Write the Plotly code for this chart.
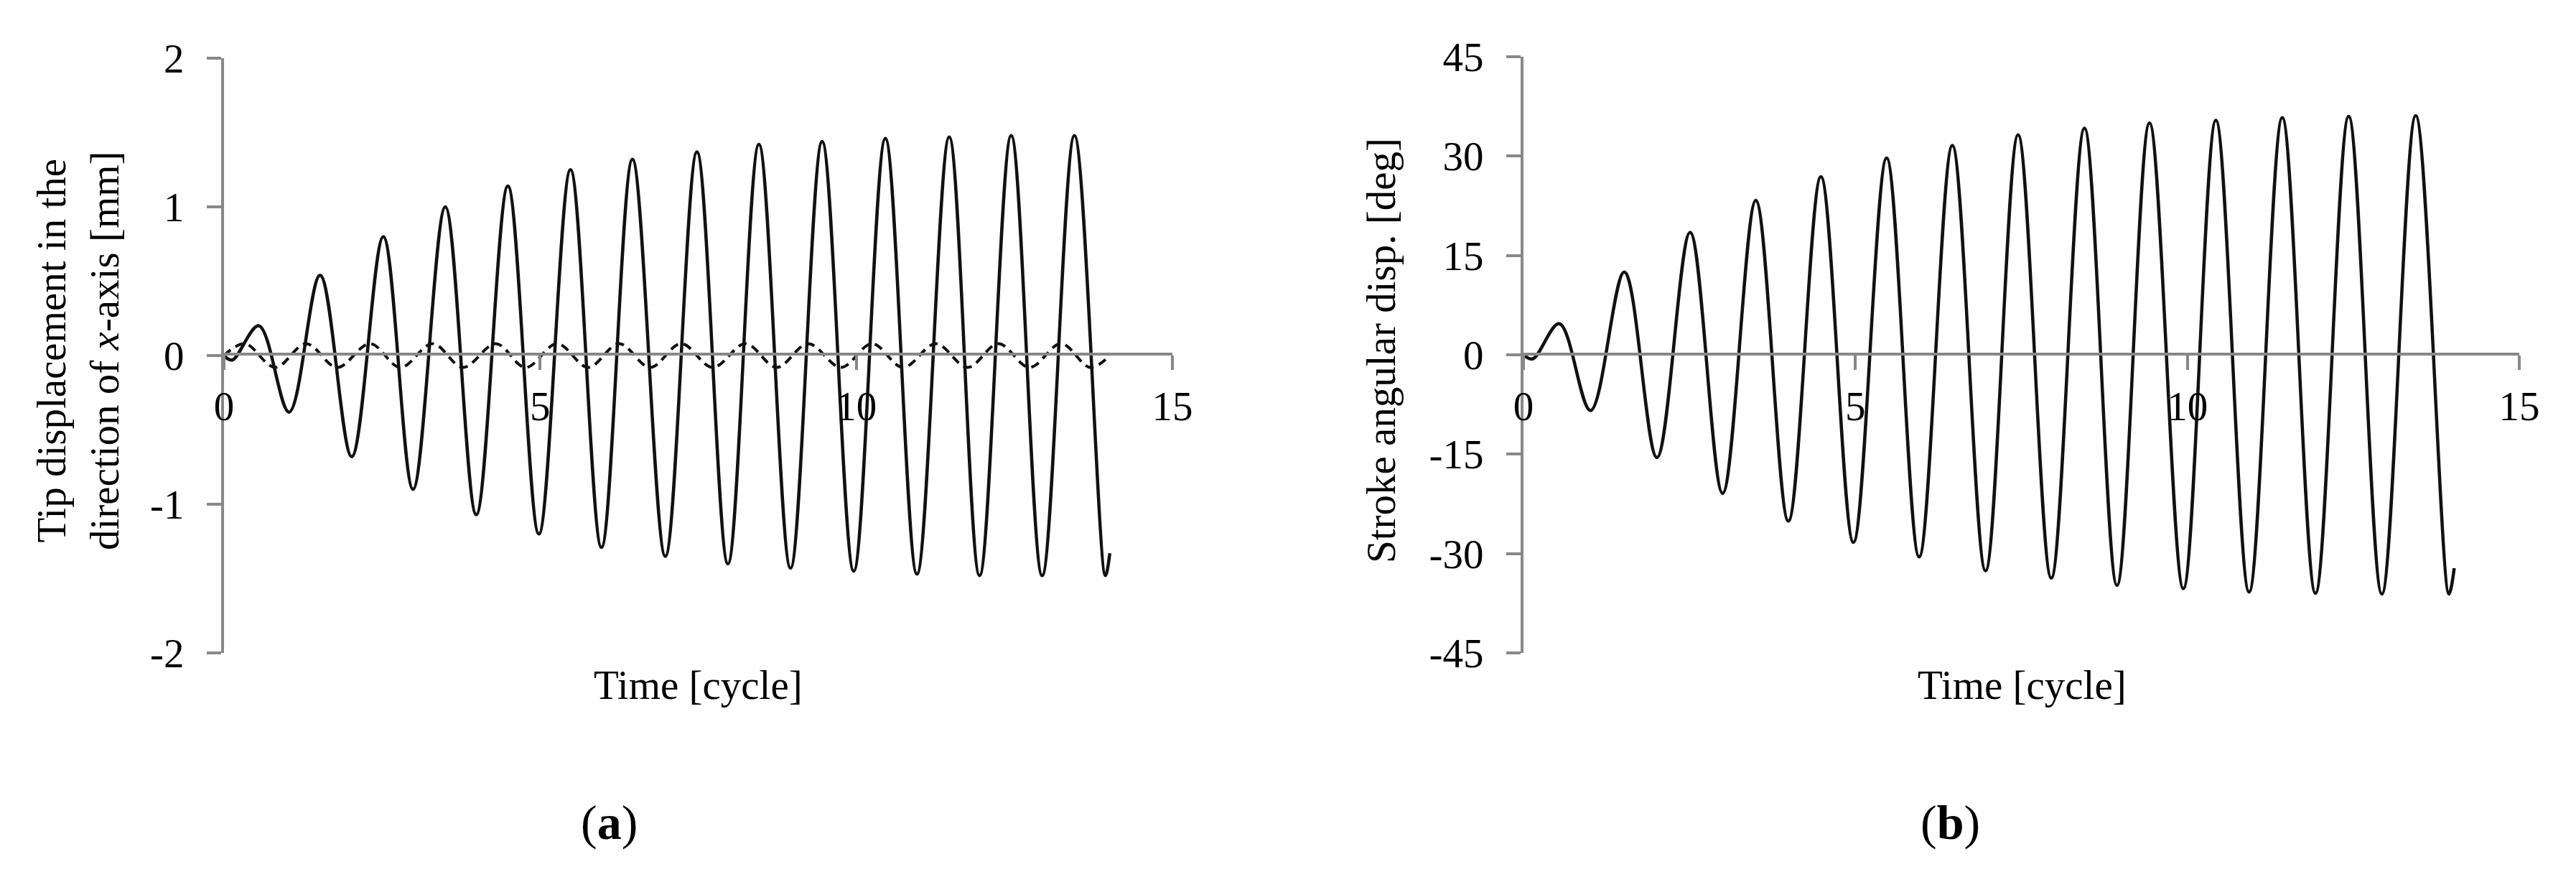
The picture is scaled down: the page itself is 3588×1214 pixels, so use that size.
import plotly.graph_objects as go

# (a) tip displacement along x-axis, solid curve: turning points
t_tip = [0.0, 0.13, 0.55, 1.03, 1.52, 2.02, 2.52, 2.99, 3.50, 3.99, 4.49, 4.98, 5.48, 5.97,
         6.46, 6.98, 7.48, 7.97, 8.46, 8.96, 9.46, 9.96, 10.46, 10.96, 11.47, 11.95, 12.45,
         12.94, 13.45, 13.94, 14.01]
tip_disp = [0.0, -0.03, 0.20, -0.38, 0.54, -0.68, 0.80, -0.90, 1.00, -1.07, 1.14, -1.20, 1.25,
            -1.29, 1.32, -1.35, 1.37, -1.40, 1.42, -1.43, 1.44, -1.45, 1.46, -1.47, 1.47, -1.48,
            1.48, -1.48, 1.48, -1.48, -1.33]

# (a) dashed curve: turning points
t_dash = [0.0, 0.33, 0.81, 1.30, 1.79, 2.31, 2.79, 3.30, 3.78, 4.30, 4.77, 5.27, 5.76, 6.25,
          6.74, 7.23, 7.73, 8.25, 8.74, 9.24, 9.76, 10.25, 10.74, 11.26, 11.76, 12.25, 12.74,
          13.24, 13.70, 14.01]
dash_disp = [0.0, 0.08, -0.08, 0.08, -0.08, 0.08, -0.08, 0.08, -0.08, 0.08, -0.08, 0.08, -0.08,
             0.08, -0.08, 0.08, -0.08, 0.08, -0.08, 0.08, -0.08, 0.08, -0.08, 0.08, -0.08, 0.08,
             -0.08, 0.08, -0.08, 0.0]

# (b) stroke angular displacement: turning points
t_stroke = [0.0, 0.14, 0.54, 1.01, 1.52, 2.01, 2.51, 3.00, 3.50, 3.99, 4.48, 4.97, 5.47, 5.96,
            6.46, 6.96, 7.45, 7.95, 8.45, 8.94, 9.43, 9.94, 10.43, 10.93, 11.43, 11.93, 12.43,
            12.93, 13.44, 13.94, 14.02]
stroke = [0.0, -0.6, 4.7, -8.4, 12.5, -15.5, 18.5, -20.9, 23.3, -25.1, 26.9, -28.3, 29.7, -30.5,
          31.6, -32.6, 33.2, -33.7, 34.2, -34.8, 35.0, -35.3, 35.4, -35.8, 35.8, -36.0, 36.0,
          -36.1, 36.1, -36.1, -32.2]

# tick labels (plain hyphen as in the original, not a unicode minus)
x_ticks = [0, 5, 10, 15]
x_ticktext = ["0", "5", "10", "15"]
disp_ticks = [-2, -1, 0, 1, 2]
disp_ticktext = ["-2", "-1", "0", "1", "2"]
stroke_ticks = [-45, -30, -15, 0, 15, 30, 45]
stroke_ticktext = ["-45", "-30", "-15", "0", "15", "30", "45"]

W, H = 3588, 1214
FONT = "Liberation Serif"
GRAY = "#888888"
FS = 57

fig = go.Figure()

fig.add_trace(go.Scatter(x=t_dash, y=dash_disp, mode="lines", line_shape="spline",
                         line=dict(color="#111111", width=4, dash="12px,8px"),
                         xaxis="x", yaxis="y"))
fig.add_trace(go.Scatter(x=t_tip, y=tip_disp, mode="lines", line_shape="spline",
                         line=dict(color="#111111", width=4.5, smoothing=1.0),
                         xaxis="x", yaxis="y"))
fig.add_trace(go.Scatter(x=t_stroke, y=stroke, mode="lines", line_shape="spline",
                         line=dict(color="#111111", width=4.5, smoothing=1.0),
                         xaxis="x2", yaxis="y2"))

# shared axis styling
ax = dict(showgrid=False, zeroline=False, showline=True, linecolor=GRAY, linewidth=4,
          ticks="outside", ticklen=20, tickwidth=4, tickcolor=GRAY, automargin=False,
          tickfont=dict(family=FONT, size=FS, color="black"))

y0 = 1 - 485 / H  # paper position of value 0 on the y axes

fig.update_layout(
    template="none",
    width=W, height=H,
    margin=dict(l=0, r=0, t=0, b=0, pad=0),
    paper_bgcolor="white", plot_bgcolor="white",
    showlegend=False,
    font=dict(family=FONT, size=FS, color="black"),
    xaxis=dict(ax, domain=[304 / W, 1625 / W], range=[0, 15],
               tickvals=x_ticks, ticktext=x_ticktext,
               anchor="free", position=y0, ticklabelstandoff=2),
    yaxis=dict(ax, domain=[1 - 901 / H, 1 - 73 / H], range=[-2, 2],
               tickvals=disp_ticks, ticktext=disp_ticktext,
               anchor="x", ticklabelstandoff=20),
    xaxis2=dict(ax, domain=[2114 / W, 3501 / W], range=[0, 15],
                tickvals=x_ticks, ticktext=x_ticktext,
                anchor="free", position=y0, ticklabelstandoff=2),
    yaxis2=dict(ax, domain=[1 - 901 / H, 1 - 71 / H], range=[-45, 45],
                tickvals=stroke_ticks, ticktext=stroke_ticktext,
                anchor="x2", ticklabelstandoff=20),
)

ann = dict(xref="paper", yref="paper", showarrow=False, xanchor="center", yanchor="middle",
           font=dict(family=FONT, size=FS, color="black"))
fig.add_annotation(ann, x=100 / W, y=1 - 480 / H, textangle=-90,
                   text="Tip displacement in the<br>direction of <i>x</i>-axis [mm]")
fig.add_annotation(ann, x=1915 / W, y=1 - 480 / H, textangle=-90,
                   text="Stroke angular disp. [deg]")
fig.add_annotation(ann, x=964 / W, y=1 - 945 / H, text="Time [cycle]")
fig.add_annotation(ann, x=2808 / W, y=1 - 945 / H, text="Time [cycle]")
fig.add_annotation(ann, x=840 / W, y=1 - 1137 / H, text="(<b>a</b>)",
                   font=dict(family=FONT, size=68, color="black"))
fig.add_annotation(ann, x=2708 / W, y=1 - 1137 / H, text="(<b>b</b>)",
                   font=dict(family=FONT, size=68, color="black"))

fig.write_html("out.html")
